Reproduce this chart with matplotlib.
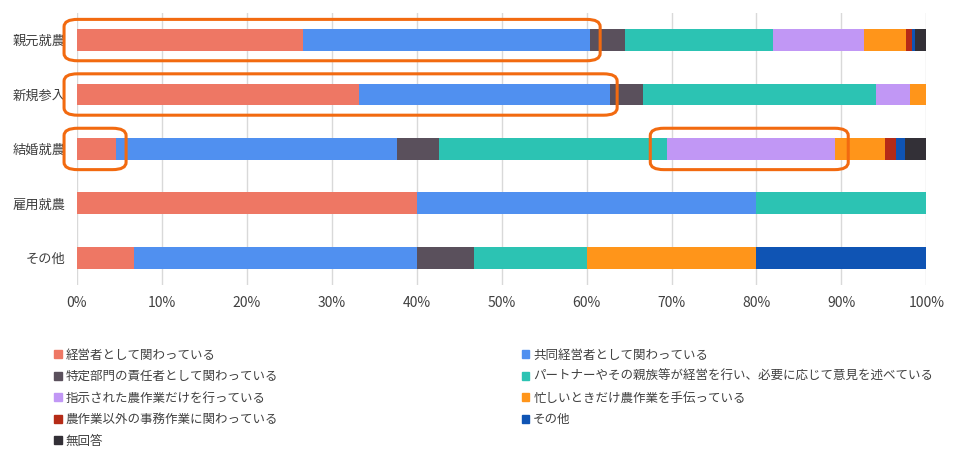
import matplotlib
matplotlib.use("Agg")
import matplotlib.pyplot as plt
from matplotlib.patches import FancyBboxPatch, Patch
import numpy as np

plt.rcParams["font.family"] = "Noto Sans CJK JP"

categories = ["親元就農", "新規参入", "結婚就農", "雇用就農", "その他"]
series_names = ["経営者として関わっている", "共同経営者として関わっている",
                "特定部門の責任者として関わっている",
                "パートナーやその親族等が経営を行い、必要に応じて意見を述べている",
                "指示された農作業だけを行っている", "忙しいときだけ農作業を手伝っている",
                "農作業以外の事務作業に関わっている", "その他", "無回答"]
s1 = [26.6, 33.2, 4.6, 40.0, 6.7]
s2 = [33.8, 29.6, 33.1, 40.0, 33.3]
s3 = [4.1, 3.9, 4.9, 0.0, 6.7]
s4 = [17.4, 27.4, 26.9, 20.0, 13.3]
s5 = [10.8, 4.0, 19.8, 0.0, 0.0]
s6 = [4.9, 1.9, 5.8, 0.0, 20.0]
s7 = [0.7, 0.0, 1.3, 0.0, 0.0]
s8 = [0.4, 0.0, 1.1, 0.0, 20.0]
s9 = [1.3, 0.0, 2.5, 0.0, 0.0]
colors = ["#EE7764", "#5090F0", "#5A505C", "#2CC3B3", "#C197F5",
          "#FF951A", "#B52B17", "#0F54B4", "#333037"]
xticks = ["0%", "10%", "20%", "30%", "40%", "50%", "60%", "70%", "80%", "90%", "100%"]

fig = plt.figure(figsize=(9.6, 4.59), dpi=100)
ax = fig.add_axes([0.080, 0.379, 0.885, 0.593])
y = np.arange(len(categories))
left = np.zeros(len(categories))
handles = []
for vals, c, n in zip([s1, s2, s3, s4, s5, s6, s7, s8, s9], colors, series_names):
    ax.barh(y, vals, left=left, height=0.4, color=c, zorder=2)
    left += np.array(vals)
    handles.append(Patch(color=c, label=n))
ax.set_xlim(0, 100)
ax.set_ylim(4.5, -0.5)
ax.set_yticks(y)
ax.set_yticklabels(categories, fontsize=9.5, color="#404040")
ax.set_xticks(np.arange(0, 101, 10))
ax.set_xticklabels(xticks, fontsize=10, color="#404040")
ax.grid(axis="x", color="#D9D9D9", lw=1, zorder=0)
for s in ax.spines.values():
    s.set_visible(False)
ax.tick_params(length=0, pad=8)

boxes = [(-1.5, 61.6, 0), (-1.5, 63.6, 1), (-1.5, 5.8, 2), (67.5, 90.8, 2)]
for x0, x1, r in boxes:
    p = FancyBboxPatch((x0, r - 0.38), x1 - x0, 0.76,
                       boxstyle="round,pad=0,rounding_size=1.6",
                       mutation_aspect=1 / 12.0,
                       fill=False, ec="#F26A10", lw=2.2, zorder=5, clip_on=False)
    ax.add_patch(p)

order = [0, 2, 4, 6, 8, 1, 3, 5, 7]
leg = fig.legend([handles[i] for i in order], [series_names[i] for i in order],
                 ncol=2, loc="upper left", bbox_to_anchor=(0.045, 0.265),
                 frameon=False, fontsize=9, handlelength=0.6, handleheight=0.6,
                 handletextpad=0.3, labelspacing=0.68, columnspacing=19.5)
for t in leg.get_texts():
    t.set_color("#404040")
fig.savefig("out.png", dpi=100)
